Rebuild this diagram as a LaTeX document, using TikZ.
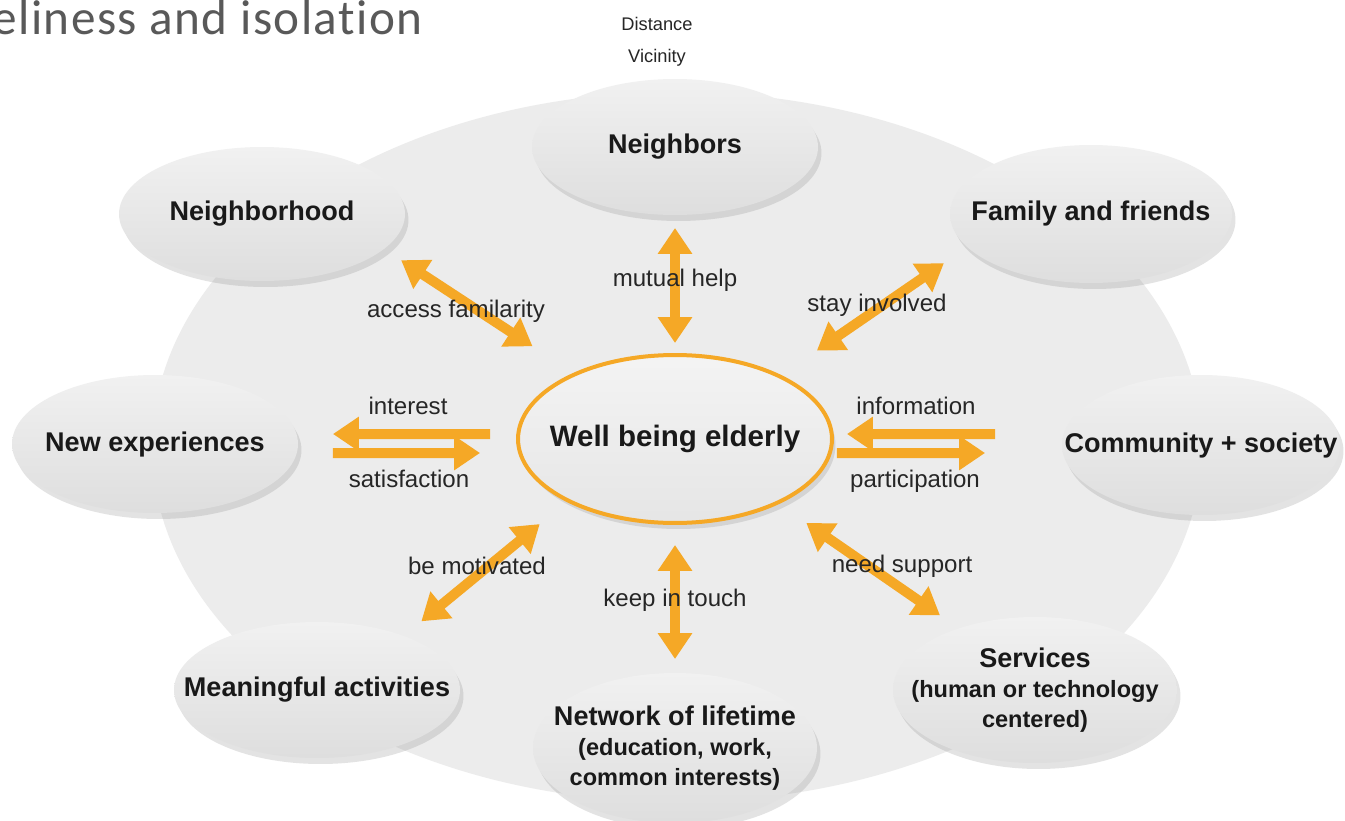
\documentclass[tikz,border=0pt]{standalone}
\usepackage{fontspec}
\setmainfont{Liberation Sans}
\newfontfamily\titlefont[Ligatures=NoCommon,LetterSpace=3]{Carlito}
\usepackage{tikz}
\usetikzlibrary{shapes.geometric,arrows.meta,shadows}
\definecolor{flowor}{RGB}{245,168,38}
\definecolor{fieldgray}{RGB}{236,236,236}
\definecolor{titlegray}{RGB}{89,89,89}
\begin{document}
\begin{tikzpicture}[x=0.02cm, y=-0.02cm,
    bubble/.style={ellipse, minimum width=5.72cm, minimum height=2.72cm, inner xsep=-1.5cm, inner ysep=0pt, outer sep=0pt,
      top color=gray!11, bottom color=gray!26, align=center, text=black!90,
      drop shadow={shadow xshift=0.07cm, shadow yshift=-0.12cm, opacity=0.22},
      font=\fontsize{15.4}{17}\selectfont\bfseries},
    hub/.style={bubble, minimum width=6.28cm, minimum height=3.36cm, draw=flowor, line width=0.08cm,
      top color=gray!9, bottom color=gray!20, font=\fontsize{16.8}{19}\selectfont\bfseries},
    multi/.style={font=\fontsize{13.4}{17}\selectfont\bfseries},
    flowarrow/.style={draw=flowor, line width=0.2cm, >={Triangle[width=0.66cm,length=0.52cm]}},
    tag/.style={inner sep=0pt, text=black!85, font=\fontsize{13.7}{16}\selectfont}]
  \useasboundingbox[fill=white] (0,0) rectangle (1345,821);
  \fill[fieldgray] (677,447) ellipse [x radius=10.5cm, y radius=7.1cm];

  \node[anchor=base west, inner sep=0pt, text=titlegray, font=\titlefont\fontsize{28}{32}\selectfont] (title) at (-8,35) {eliness and isolation};
  \node[anchor=base, inner sep=0pt, text=black!85, font=\fontsize{10.4}{12}\selectfont] (distance) at (657,31) {Distance};
  \node[anchor=base, inner sep=0pt, text=black!85, font=\fontsize{10.4}{12}\selectfont] (vicinity) at (657,63) {Vicinity};

  \node[hub] (hub) at (675,439) {Well being elderly};
  \node[bubble] (neighbors) at (675,147) {Neighbors};
  \node[bubble, minimum height=2.68cm] (hood) at (262,214) {Neighborhood};
  \node[bubble, minimum width=5.64cm, minimum height=2.76cm] (family) at (1091,214) {Family and friends};
  \node[bubble, minimum height=2.76cm] (newexp) at (155,444) {New experiences};
  \node[bubble, minimum width=5.56cm, minimum height=2.8cm] (community) at (1201,445) {Community + society};
  \node[bubble] (activities) at (317,690) {Meaningful activities};
  \node[bubble, multi, minimum width=5.68cm, minimum height=3.0cm] (network) at (675,748)
    {{\fontsize{15.4}{17}\selectfont Network of lifetime}\\ (education, work,\\ common interests)};
  \node[bubble, multi, minimum width=5.68cm, minimum height=2.92cm] (services) at (1035,690)
    {{\fontsize{15.4}{17}\selectfont Services}\\ (human or technology\\ centered)};

  \draw[flowarrow, <->, shorten <=0.24cm, shorten >=0.26cm] (hub.north) -- (neighbors.south);
  \draw[flowarrow, <->, shorten <=1.02cm, shorten >=0.41cm] (hub.147.9) -- (hood.-16.2);
  \draw[flowarrow, <->, shorten <=0.91cm, shorten >=0.57cm] (hub.31.5) -- (family.195.5);
  \draw[flowarrow, <->, shorten <=0.74cm, shorten >=0.46cm] (hub.210.6) -- (activities.32.5);
  \draw[flowarrow, <->, shorten <=0.71cm, shorten >=0.46cm] (hub.-32.9) -- (services.141.7);
  \draw[flowarrow, <->, shorten <=0.44cm, shorten >=0.28cm] (hub.south) -- (network.north);
  \draw[flowarrow, ->, shorten <=0.56cm, shorten >=0.7cm] ([yshift=0.1cm]hub.west) -- ([yshift=0.2cm]newexp.east);
  \draw[flowarrow, ->, shorten <=0.7cm, shorten >=0.76cm] ([yshift=-0.18cm]newexp.east) -- ([yshift=-0.28cm]hub.west);
  \draw[flowarrow, ->, shorten <=1.34cm, shorten >=0.3cm] ([yshift=0.22cm]community.west) -- ([yshift=0.1cm]hub.east);
  \draw[flowarrow, ->, shorten <=0.1cm, shorten >=1.54cm] ([yshift=-0.28cm]hub.east) -- ([yshift=-0.16cm]community.west);

  \node[tag] (mutual) at (675,280) {mutual help};
  \node[tag] (access) at (456,311) {access familarity};
  \node[tag] (involved) at (877,305) {stay involved};
  \node[tag] (interest) at (408,406) {interest};
  \node[tag] (satisfaction) at (409,479) {satisfaction};
  \node[tag] (information) at (916,406) {information};
  \node[tag] (participation) at (915,481) {participation};
  \node[tag] (motivated) at (477,566) {be motivated};
  \node[tag] (touch) at (675,600) {keep in touch};
  \node[tag] (support) at (902,566) {need support};
\end{tikzpicture}
\end{document}
